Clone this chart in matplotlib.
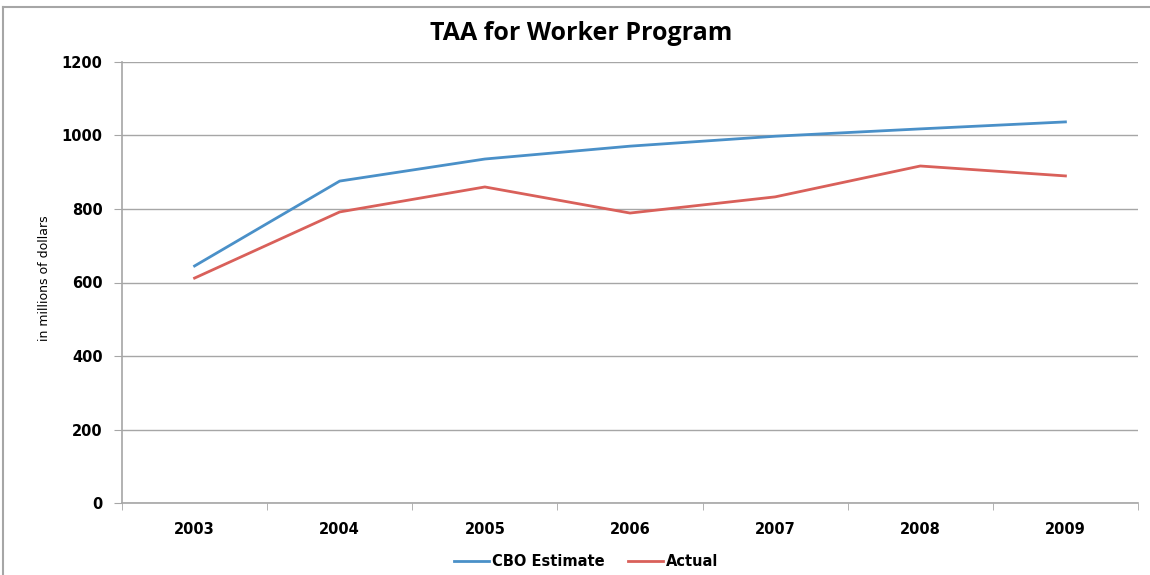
import numpy as np
import matplotlib.pyplot as plt
from matplotlib.lines import Line2D

years = ["2003", "2004", "2005", "2006", "2007", "2008", "2009"]
cbo_estimate = [645, 876, 936, 971, 998, 1018, 1037]
actual = [612, 792, 860, 789, 833, 917, 890]

blue = "#4a90c8"
red = "#d9605a"
grid_c = "#a6a6a6"

fig = plt.figure(figsize=(11.5, 5.75), dpi=100)
ax = fig.add_axes([122 / 1150, 1 - 503 / 575, (1138 - 122) / 1150, (503 - 62) / 575])

x = np.arange(len(years))
ax.plot(x, cbo_estimate, color=blue, lw=2, label="CBO Estimate")
ax.plot(x, actual, color=red, lw=2, label="Actual")

ax.set_xlim(-0.5, len(years) - 0.5)
ax.set_ylim(0, 1200)
ax.set_yticks(range(0, 1201, 200))
ax.set_xticks(x)
ax.set_xticklabels(years)
ax.set_xticks(np.arange(-0.5, len(years), 1), minor=True)

ax.grid(axis="y", color=grid_c, lw=1)
ax.set_axisbelow(True)
for s in ["top", "right"]:
    ax.spines[s].set_visible(False)
for s in ["left", "bottom"]:
    ax.spines[s].set_color(grid_c)
    ax.spines[s].set_linewidth(1.2)

ax.tick_params(axis="x", which="major", length=0, pad=14)
ax.tick_params(axis="x", which="minor", length=5, color=grid_c, direction="out")
ax.tick_params(axis="y", length=6, color=grid_c, pad=8)
for lab in ax.get_xticklabels() + ax.get_yticklabels():
    lab.set_fontweight("bold")
    lab.set_fontsize(10.5)
    lab.set_family("DejaVu Sans")

ax.set_ylabel("in millions of dollars", fontsize=9, family="Liberation Sans Narrow")
ax.yaxis.set_label_coords(-0.07, 0.51)

fig.text(0.505, 1 - 33 / 575, "TAA for Worker Program", ha="center", va="center",
         fontsize=18, fontweight="bold", family="Open Sans")

handles = [Line2D([0], [0], color=blue, lw=2), Line2D([0], [0], color=red, lw=2)]
leg = fig.legend(handles, ["CBO Estimate", "Actual"], loc="center", bbox_to_anchor=(0.51, 1 - 562 / 575),
                 ncol=2, frameon=False, handlelength=2.4, handletextpad=0.2, columnspacing=1.6,
                 prop={"weight": "bold", "size": 10.5, "family": "DejaVu Sans"})

# outer chart border
fig.add_artist(Line2D([3 / 1150, 3 / 1150], [0, 1 - 7 / 575], color=grid_c, lw=1.5, transform=fig.transFigure))
fig.add_artist(Line2D([3 / 1150, 1], [1 - 7 / 575, 1 - 7 / 575], color=grid_c, lw=1.5, transform=fig.transFigure))

fig.savefig("out.png", dpi=100)
